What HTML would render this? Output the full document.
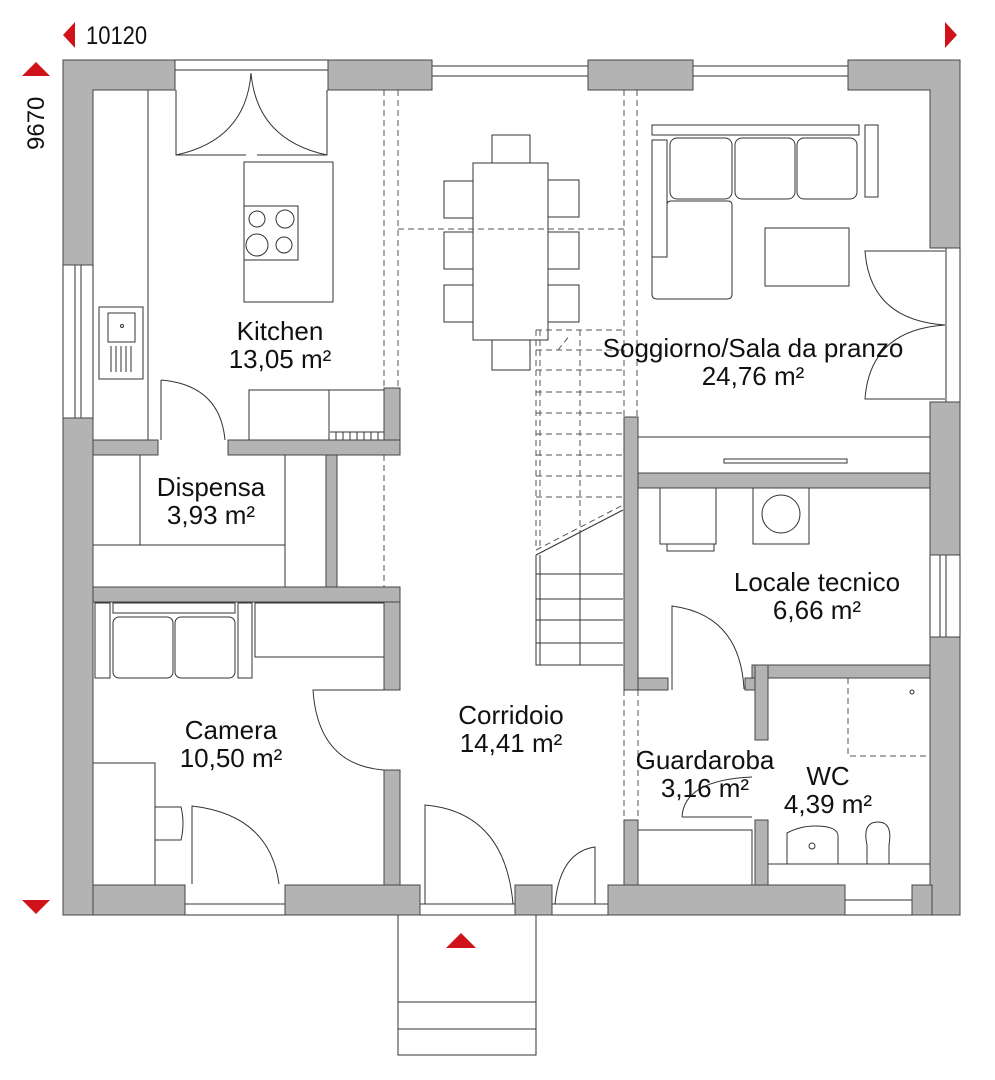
<!DOCTYPE html>
<html><head><meta charset="utf-8"><style>
html,body{margin:0;padding:0;background:#fff;}
svg{display:block;}
text{font-family:"Liberation Sans",sans-serif;fill:#111;}
</style></head><body>
<svg width="995" height="1080" viewBox="0 0 995 1080" xmlns="http://www.w3.org/2000/svg">
<!-- dimension markers -->
<polygon points="63,35 75,22 75,48" fill="#d0121b"/>
<polygon points="957,35 945,22 945,48" fill="#d0121b"/>
<text x="86" y="44" font-size="25" transform="translate(86,44) scale(0.88,1) translate(-86,-44)">10120</text>
<polygon points="22,76 36,62 50,76" fill="#d0121b"/>
<polygon points="22,900 36,914 50,900" fill="#d0121b"/>
<text x="0" y="0" font-size="24" transform="translate(44,150) rotate(-90)">9670</text>
<polygon points="446,948 461,933 476,948" fill="#d0121b"/>

<g fill="none" stroke="#333" stroke-width="1">
<rect x="175" y="60" width="153" height="10"/>
<rect x="432" y="66" width="156" height="10"/>
<rect x="693" y="66" width="155" height="10"/>
<rect x="63" y="265" width="30" height="153"/>
<line x1="75" y1="265" x2="75" y2="418"/><line x1="81" y1="265" x2="81" y2="418"/>
<rect x="946" y="248" width="14" height="154"/>
<rect x="930" y="555" width="30" height="82"/>
<line x1="940" y1="555" x2="940" y2="637"/><line x1="946" y1="555" x2="946" y2="637"/>
<rect x="185" y="904" width="100" height="11"/>
<rect x="420" y="904" width="95" height="11"/>
<rect x="552" y="904" width="56" height="11"/>
<rect x="845" y="900" width="67" height="15"/>
<rect x="398" y="915" width="138" height="140"/>
<line x1="398" y1="1002" x2="536" y2="1002"/><line x1="398" y1="1029" x2="536" y2="1029"/>

<line x1="148" y1="90" x2="148" y2="440"/>
<path d="M176,90 V155 H246 M327,90 V155 H257"/>
<path d="M176,155 Q246,140 251,73 M327,155 Q257,140 251,73"/>
<rect x="244" y="162" width="89" height="140"/>
<rect x="244" y="206" width="54" height="54"/>
<circle cx="257" cy="219" r="8"/><circle cx="285" cy="219" r="9"/><circle cx="257" cy="245" r="11"/><circle cx="284" cy="245" r="8"/>
<rect x="99" y="307" width="44" height="72"/>
<rect x="108" y="313" width="27" height="29"/>
<circle cx="122" cy="326" r="1.5"/>
<path d="M111,346V372M116,346V372M121,346V372M126,346V372M131,346V372"/>
<path d="M161,380 V440 M161,380 Q220,385 225,440"/>
<rect x="249" y="390" width="80" height="50"/>
<rect x="329" y="390" width="55" height="50"/>
<path d="M330,432H384M336,432V440M343,432V440M350,432V440M357,432V440M364,432V440M371,432V440M378,432V440"/>

<line x1="140" y1="455" x2="140" y2="545"/>
<line x1="93" y1="545" x2="285" y2="545"/>
<line x1="285" y1="455" x2="285" y2="587"/>

<rect x="95" y="603" width="15" height="75"/>
<rect x="113" y="603" width="122" height="10"/>
<rect x="113" y="617" width="60" height="61" rx="6"/>
<rect x="175" y="617" width="60" height="61" rx="6"/>
<rect x="238" y="603" width="14" height="75"/>
<rect x="255" y="603" width="129" height="54"/>
<path d="M93,763H155V885"/>
<path d="M155,807H181Q185,823 181,840H155"/>
<path d="M192,884V806Q270,815 279,884"/>
<path d="M384,690H313Q318,765 384,770"/>

<path d="M425,904V805Q505,812 513,904"/>
<path d="M595,904V847Q560,852 555,904"/>

<rect x="473" y="163" width="75" height="177"/>
<rect x="492" y="135" width="38" height="28"/>
<rect x="492" y="340" width="38" height="30"/>
<rect x="444" y="181" width="29" height="37"/><rect x="444" y="232" width="29" height="37"/><rect x="444" y="285" width="29" height="37"/>
<rect x="548" y="180" width="31" height="37"/><rect x="548" y="232" width="31" height="37"/><rect x="548" y="285" width="31" height="37"/>

<path d="M536,555V665H623M580,530V665M536,574H623M536,599H623M536,620H623M536,643H623M536,555L623,510"/>
<line x1="540" y1="555" x2="540" y2="665"/>

<rect x="652" y="125" width="207" height="10"/>
<rect x="865" y="125" width="13" height="72"/>
<rect x="652" y="140" width="15" height="117"/>
<rect x="670" y="138" width="62" height="61" rx="7"/>
<rect x="735" y="138" width="60" height="61" rx="7"/>
<rect x="797" y="138" width="60" height="61" rx="7"/>
<path d="M652,257H667V205Q667,201 671,201H728Q732,201 732,205V294Q732,299 727,299H657Q652,299 652,294Z"/>
<rect x="765" y="228" width="84" height="58"/>
<path d="M945,251H865Q870,320 945,325Q870,330 865,399H945"/>
<rect x="638" y="437" width="292" height="36"/>
<rect x="724" y="459" width="123" height="4"/>

<rect x="660" y="488" width="56" height="56"/>
<rect x="667" y="544" width="47" height="7"/>
<rect x="753" y="488" width="56" height="56"/>
<circle cx="781" cy="514" r="19"/>
<path d="M672,690V606Q740,615 744,689"/>

<path d="M682,817Q684,780 752,777M682,817H752"/>
<rect x="638" y="830" width="114" height="55"/>

<path d="M787,864V833Q800,826 815,826Q838,826 838,836V864Z"/>
<circle cx="812" cy="846" r="3"/>
<path d="M867,864V845Q862,822 878,822Q893,822 889,845V864Z"/>
<line x1="768" y1="864" x2="930" y2="864"/>
<circle cx="912" cy="692" r="2"/>
</g>

<g fill="none" stroke="#555" stroke-width="1" stroke-dasharray="6,4">
<line x1="384" y1="90" x2="384" y2="388"/><line x1="398" y1="90" x2="398" y2="388"/>
<line x1="624" y1="90" x2="624" y2="417"/><line x1="637" y1="90" x2="637" y2="417"/>
<line x1="398" y1="229" x2="624" y2="229"/>
<line x1="384" y1="455" x2="384" y2="587"/>
<path d="M536,330V550M540,330V550M580,330V530M536,330H623M536,350H623M536,370H623M536,392H623M536,413H623M536,434H623M536,455H623M536,476H623M536,497H623M536,550L623,505M558,350L570,335"/>
<line x1="624" y1="690" x2="624" y2="820"/><line x1="638" y1="690" x2="638" y2="820"/>
<path d="M848,678V756H930"/>
</g>

<g fill="#b3b3b3" stroke="#444" stroke-width="1">
<path d="M63,60H175V90H93V265H63Z"/>
<rect x="328" y="60" width="104" height="30"/>
<rect x="588" y="60" width="105" height="30"/>
<path d="M848,60H960V248H930V90H848Z"/>
<rect x="63" y="418" width="30" height="497"/>
<rect x="930" y="402" width="30" height="153"/>
<rect x="930" y="637" width="30" height="278"/>
<rect x="93" y="885" width="92" height="30"/>
<rect x="285" y="885" width="135" height="30"/>
<rect x="515" y="885" width="37" height="30"/>
<rect x="608" y="885" width="237" height="30"/>
<rect x="912" y="885" width="20" height="30"/>
<rect x="93" y="440" width="65" height="15"/>
<rect x="228" y="440" width="172" height="15"/>
<rect x="384" y="388" width="16" height="52"/>
<rect x="326" y="455" width="11" height="132"/>
<rect x="93" y="587" width="307" height="15"/>
<rect x="384" y="602" width="16" height="88"/>
<rect x="384" y="770" width="16" height="115"/>
<rect x="624" y="417" width="14" height="273"/>
<rect x="638" y="473" width="292" height="15"/>
<rect x="638" y="678" width="30" height="12"/>
<rect x="745" y="678" width="10" height="12"/>
<rect x="752" y="665" width="178" height="13"/>
<rect x="755" y="665" width="13" height="75"/>
<rect x="624" y="820" width="14" height="65"/>
<rect x="755" y="820" width="13" height="65"/>
</g>

<g font-size="26" text-anchor="middle">
<text x="280" y="340">Kitchen</text><text x="280" y="368">13,05 m²</text>
<text x="211" y="496">Dispensa</text><text x="211" y="524">3,93 m²</text>
<text x="231" y="739">Camera</text><text x="231" y="767">10,50 m²</text>
<text x="511" y="724">Corridoio</text><text x="511" y="752">14,41 m²</text>
<text x="753" y="357">Soggiorno/Sala da pranzo</text><text x="753" y="385">24,76 m²</text>
<text x="817" y="591">Locale tecnico</text><text x="817" y="619">6,66 m²</text>
<text x="705" y="769">Guardaroba</text><text x="705" y="797">3,16 m²</text>
<text x="828" y="785">WC</text><text x="828" y="813">4,39 m²</text>
</g>
</svg>
</body></html>
